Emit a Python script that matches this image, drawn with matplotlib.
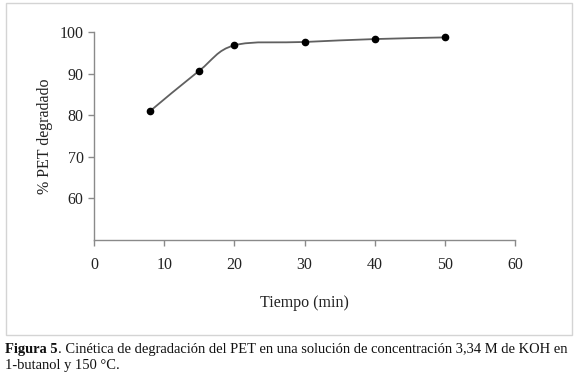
import matplotlib
matplotlib.use("Agg")
import matplotlib.pyplot as plt
import numpy as np
from matplotlib.path import Path
from matplotlib.patches import PathPatch, Rectangle

plt.rcParams['font.family'] = ['Liberation Serif', 'DejaVu Serif']

tiempo = [8, 15, 20, 30, 40, 50]
pet = [81.0, 90.7, 96.8, 97.6, 98.3, 98.7]
xticks = [0, 10, 20, 30, 40, 50, 60]
yticks = [60, 70, 80, 90, 100]

W, H = 578, 376
fig = plt.figure(figsize=(W / 100, H / 100), dpi=100)

# light frame around the chart area
fig.patches.append(Rectangle((6 / W, 1 - 335 / H), 566 / W, 332 / H,
                             transform=fig.transFigure, fill=False,
                             edgecolor='#d4d4d4', lw=1))

ax = fig.add_axes([94 / W, 1 - 240 / H, (515 - 94) / W, (240 - 32) / H])
ax.set_xlim(0, 60)
ax.set_ylim(50, 100)

# smoothed line (Excel-like), cubic bezier through the points
pts = np.column_stack([tiempo, pet])
verts = [pts[0]]
codes = [Path.MOVETO]
n = len(pts)
for i in range(n - 1):
    p0 = pts[max(i - 1, 0)]
    p1 = pts[i]
    p2 = pts[i + 1]
    p3 = pts[min(i + 2, n - 1)]
    c1 = p1 + (p2 - p0) / 6
    c2 = p2 - (p3 - p1) / 6
    verts += [c1, c2, p2]
    codes += [Path.CURVE4] * 3
ax.add_patch(PathPatch(Path(verts, codes), facecolor='none',
                       edgecolor='#606060', lw=1.3))
ax.plot(tiempo, pet, 'o', color='black', ms=4.5, zorder=3)

for s in ['top', 'right']:
    ax.spines[s].set_visible(False)
for s in ['left', 'bottom']:
    ax.spines[s].set_color('#8a8a8a')
    ax.spines[s].set_linewidth(1)

ax.set_xticks(xticks)
ax.set_yticks(yticks)
ax.tick_params(colors='#8a8a8a', labelcolor='#222222', labelsize=11.5,
               length=4, width=1)
ax.tick_params(axis='x', pad=8)

ax.set_xlabel('Tiempo (min)', fontsize=11.5, color='#222222', labelpad=16)
ax.set_ylabel('% PET degradado', fontsize=11.5, color='#222222', labelpad=5)

fs = 10.45
t1 = fig.text(5 / W, 1 - 349 / H, 'Figura 5', fontsize=fs, fontweight='bold',
              va='center', ha='left', color='#111111')
fig.canvas.draw()
bb = t1.get_window_extent()
fig.text(bb.x1 / W, 1 - 349 / H,
         '. Cinética de degradación del PET en una solución de concentración 3,34 M de KOH en',
         fontsize=fs, va='center', ha='left', color='#111111')
fig.text(5 / W, 1 - 365 / H, '1-butanol y 150 °C.', fontsize=fs,
         va='center', ha='left', color='#111111')

fig.savefig('out.png', dpi=100)
